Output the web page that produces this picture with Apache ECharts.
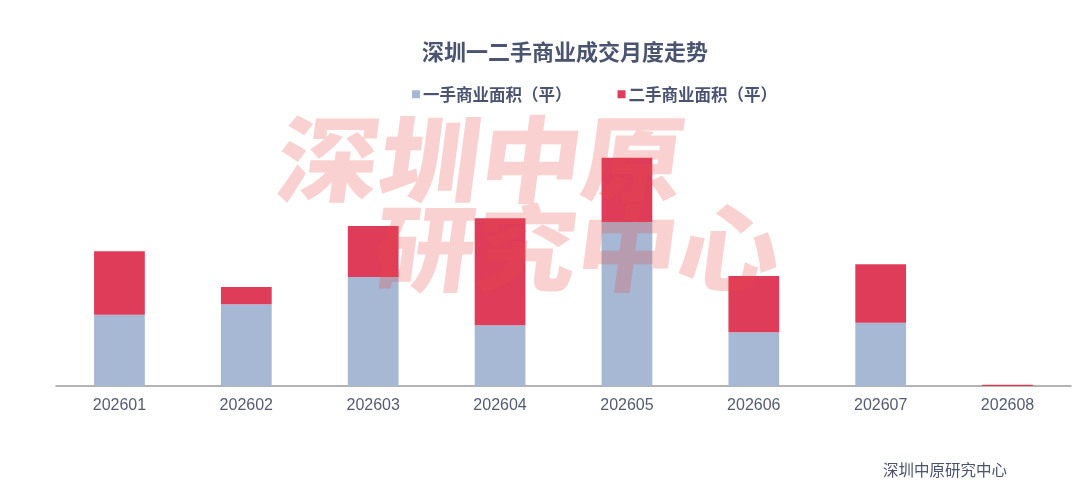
<!DOCTYPE html>
<html>
<head>
<meta charset="utf-8">
<script src="https://cdn.jsdelivr.net/npm/echarts@6/dist/echarts.min.js"></script>
<style>
    html, body { margin: 0; padding: 0; background: #fff; }
    #chart { width: 1080px; height: 490px; }
</style>
</head>
<body>
<div id="chart"></div>
<script>
// 月份
var months = ['202601', '202602', '202603', '202604', '202605', '202606', '202607', '202608'];
// 一手商业面积（平）
var newArea = [71300, 81700, 109000, 60700, 164000, 53700, 63300, 0];
// 二手商业面积（平）
var usedArea = [63400, 17300, 51000, 107000, 64300, 56300, 58400, 1200];

var textColor = '#4a5470';
var cjk = '"Noto Sans CJK SC", "Noto Sans", sans-serif';
var markFill = 'rgba(235, 70, 70, 0.25)';

var myChart = echarts.init(document.getElementById('chart'));
var option = {
    backgroundColor: '#fff',
    animation: false,
    title: {
        text: '深圳一二手商业成交月度走势',
        left: 417,
        top: 36,
        textStyle: { color: textColor, fontSize: 22, fontWeight: 'bold', fontFamily: cjk }
    },
    legend: {
        top: 81,
        left: 407,
        itemWidth: 8,
        itemHeight: 8,
        itemGap: 46,
        icon: 'rect',
        textStyle: { color: textColor, fontSize: 16.5, fontWeight: 'bold', fontFamily: cjk, padding: [0, 0, 0, -2] },
        data: ['一手商业面积（平）', '二手商业面积（平）']
    },
    grid: {
        left: 56,
        right: 9,
        top: 136,
        bottom: 104
    },
    xAxis: {
        type: 'category',
        data: months,
        axisLine: { lineStyle: { color: '#9a9a9a', width: 1.5 } },
        axisTick: { length: 4, lineStyle: { color: '#9a9a9a' } },
        axisLabel: { color: '#545c74', fontSize: 16, margin: 12, fontFamily: '"Liberation Sans", Arial, sans-serif' }
    },
    yAxis: {
        type: 'value',
        min: 0,
        max: 250000,
        show: false,
        splitLine: { show: false }
    },
    series: [
        {
            name: '一手商业面积（平）',
            type: 'bar',
            stack: 'total',
            barWidth: '40%',
            itemStyle: { color: '#a6b8d3' },
            data: newArea
        },
        {
            name: '二手商业面积（平）',
            type: 'bar',
            stack: 'total',
            barWidth: '40%',
            itemStyle: { color: '#de3c58' },
            data: usedArea
        }
    ],
    graphic: [
        {
            type: 'text',
            x: 272,
            y: 206,
            skewX: -0.13,
            scaleX: 1.08,
            z: 100,
            silent: true,
            style: {
                text: '深圳中原',
                font: '900 94px "Noto Sans CJK SC"',
                textVerticalAlign: 'bottom',
                fill: markFill
            }
        },
        {
            type: 'text',
            x: 368,
            y: 295,
            skewX: -0.13,
            scaleX: 1.08,
            z: 100,
            silent: true,
            style: {
                text: '研究中心',
                font: '900 94px "Noto Sans CJK SC"',
                textVerticalAlign: 'bottom',
                fill: markFill
            }
        },
        {
            type: 'text',
            right: 73,
            top: 462,
            style: {
                text: '深圳中原研究中心',
                font: '15.5px "Noto Sans CJK SC"',
                fill: textColor
            }
        }
    ]
};
myChart.setOption(option);
</script>
</body>
</html>
